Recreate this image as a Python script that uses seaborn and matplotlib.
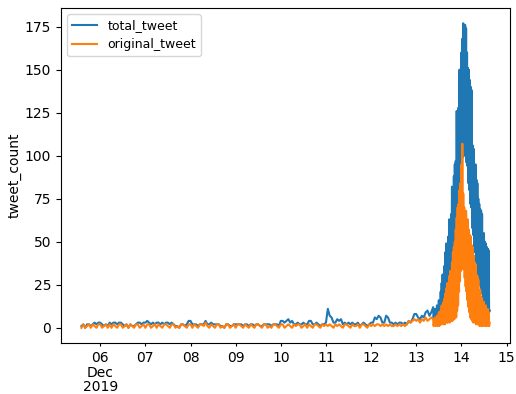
import pandas as pd
import matplotlib
matplotlib.use("Agg")
import matplotlib.pyplot as plt
import seaborn as sns

# Hourly counts, 2019-12-05 14:00 .. 2019-12-13 08:00
total_hourly = (
    [1, 2, 0, 2, 2, 1, 2, 3, 2, 3]                                                    # Dec 05 14h-23h
    + [3, 2, 1, 2, 1, 3, 2, 3, 3, 2, 3, 3, 2, 1, 2, 0, 2, 1, 1, 2, 3, 3, 2, 3]         # Dec 06
    + [3, 4, 3, 2, 3, 2, 3, 3, 2, 3, 2, 3, 3, 2, 3, 2, 1, 1, 0, 2, 2, 1, 2, 4]         # Dec 07
    + [4, 2, 2, 2, 1, 2, 2, 2, 4, 2, 2, 3, 2, 2, 2, 2, 1, 1, 0, 2, 2, 1, 1, 2]         # Dec 08
    + [2, 2, 2, 2, 1, 2, 2, 1, 2, 2, 1, 2, 2, 1, 1, 2, 2, 2, 2, 1, 2, 2, 2, 1]         # Dec 09
    + [4, 4, 3, 4, 5, 3, 4, 2, 2, 3, 2, 2, 3, 2, 2, 4, 4, 2, 2, 3, 2, 1, 2, 2]         # Dec 10
    + [3, 11, 7, 6, 3, 3, 5, 4, 5, 2, 3, 2, 3, 2, 3, 2, 2, 3, 1, 2, 3, 2, 1, 2]        # Dec 11
    + [3, 3, 6, 5, 7, 6, 3, 3, 7, 6, 3, 3, 2, 3, 2, 3, 3, 2, 3, 2, 4, 3, 5, 8]         # Dec 12
    + [8, 6, 5, 7, 6, 9, 10, 7, 9]                                                    # Dec 13 0h-8h
)
original_hourly = (
    [0, 2, 0, 1, 2, 0, 2, 1, 0, 2]
    + [2, 0, 1, 2, 0, 2, 0, 2, 1, 0, 2, 2, 0, 1, 2, 0, 2, 1, 0, 2, 2, 0, 1, 2]
    + [0, 2, 2, 0, 1, 2, 0, 2, 1, 0, 2, 2, 1, 0, 2, 2, 0, 1, 0, 2, 2, 1, 0, 2]
    + [2, 0, 2, 1, 0, 2, 2, 1, 3, 1, 0, 2, 1, 0, 2, 2, 0, 1, 0, 2, 2, 0, 1, 2]
    + [0, 2, 2, 1, 0, 2, 1, 0, 2, 1, 0, 2, 2, 1, 0, 2, 2, 0, 1, 0, 2, 2, 1, 0]
    + [2, 2, 0, 1, 2, 1, 0, 2, 1, 2, 2, 0, 1, 2, 0, 2, 1, 0, 2, 2, 1, 0, 2, 1]
    + [2, 1, 2, 1, 0, 2, 1, 2, 1, 0, 2, 2, 1, 0, 2, 1, 1, 2, 0, 2, 2, 1, 0, 2]
    + [1, 2, 1, 2, 2, 1, 2, 1, 2, 1, 2, 1, 1, 2, 1, 2, 1, 2, 1, 2, 4, 3, 4, 5]
    + [4, 5, 3, 5, 4, 6, 4, 5, 6]
)

# Quarter-hourly counts during the burst, 2019-12-13 09:00 .. 2019-12-14 15:00
total_burst = (
    [12, 5, 9, 6, 11, 4, 10, 6]               # Dec 13 09h-10h
    + [13, 5, 12, 7, 16, 6, 14, 8]            # 11h-12h
    + [21, 7, 26, 10, 31, 9, 29, 12]          # 13h-14h
    + [36, 11, 44, 13, 49, 16, 46, 15]        # 15h-16h
    + [53, 19, 63, 18, 58, 23, 66, 24]        # 17h-18h
    + [82, 27, 76, 33, 88, 31, 95, 40]        # 19h-20h
    + [97, 46, 126, 58, 125, 62, 128, 74]     # 21h-22h
    + [150, 80, 146, 92, 160, 90, 168, 99]    # 23h-Dec 14 00h
    + [177, 104, 170, 100, 176, 106, 174, 96] # 01h-02h
    + [160, 94, 151, 84, 150, 80, 144, 72]    # 03h-04h
    + [140, 70, 138, 58, 106, 54, 104, 46]    # 05h-06h
    + [93, 44, 95, 37, 86, 36, 84, 30]        # 07h-08h
    + [75, 30, 72, 25, 69, 24, 68, 20]        # 09h-10h
    + [66, 20, 53, 16, 55, 17, 50, 13]        # 11h-12h
    + [49, 14, 47, 11, 46, 12, 45, 9]         # 13h-14h
    + [10]                                    # 15h
)
original_burst = (
    [5, 1, 4, 2, 6, 1, 5, 2]
    + [7, 1, 6, 2, 9, 1, 8, 2]
    + [10, 2, 13, 3, 11, 2, 15, 3]
    + [17, 2, 20, 4, 23, 3, 26, 3]
    + [25, 5, 30, 3, 33, 5, 32, 4]
    + [38, 4, 44, 6, 47, 5, 50, 7]
    + [57, 6, 64, 10, 70, 13, 72, 21]
    + [80, 27, 84, 33, 95, 37, 107, 34]
    + [78, 35, 70, 29, 66, 24, 68, 21]
    + [62, 16, 63, 12, 57, 9, 54, 6]
    + [53, 5, 48, 4, 47, 3, 42, 4]
    + [38, 3, 37, 2, 31, 3, 30, 2]
    + [28, 2, 22, 1, 22, 3, 18, 1]
    + [17, 2, 14, 1, 15, 2, 12, 1]
    + [13, 1, 10, 2, 11, 1, 9, 1]
    + [3]
)

series_names = ["total_tweet", "original_tweet"]
tick_days = pd.date_range("2019-12-06", "2019-12-15", freq="D")
tick_labels = ["06\nDec\n2019", "07", "08", "09", "10", "11", "12", "13", "14", "15"]

times = list(pd.date_range("2019-12-05 14:00", periods=len(total_hourly), freq="h")) + \
        list(pd.date_range("2019-12-13 09:00", periods=len(total_burst), freq="15min"))
total = total_hourly + total_burst
original = original_hourly + original_burst

df = pd.concat([
    pd.DataFrame({"time": times, "tweet_count": total, "series": series_names[0]}),
    pd.DataFrame({"time": times, "tweet_count": original, "series": series_names[1]}),
], ignore_index=True)

fig = plt.figure(figsize=(5.16, 3.94), dpi=100)
ax = fig.add_axes([0.1182, 0.1294, 0.8702, 0.8503])
sns.lineplot(data=df, x="time", y="tweet_count", hue="series", hue_order=series_names,
             palette=["#1f77b4", "#ff7f0e"], linewidth=1.5, ax=ax)
sns.move_legend(ax, "upper left", title=None, fontsize=9)

ax.set_yticks([0, 25, 50, 75, 100, 125, 150, 175])
ax.set_xticks(tick_days, tick_labels)
ax.tick_params(axis="x", length=2.5)
for lbl in ax.get_xticklabels():
    lbl.set_linespacing(1.05)
ax.set_xlabel("")
ax.set_ylabel("tweet_count", labelpad=2)

fig.savefig("out.png", dpi=100)
